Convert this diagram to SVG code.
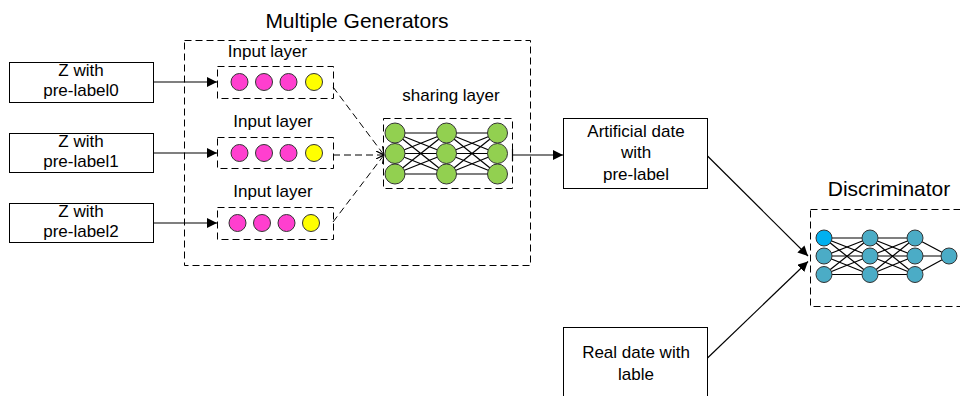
<svg xmlns="http://www.w3.org/2000/svg" width="960" height="396" viewBox="0 0 960 396">
<style>
text{font-family:"Liberation Sans",Arial,sans-serif;fill:#000;text-anchor:middle}
.t{font-size:21px}
.m{font-size:17px}
.s{font-size:17px}
.box{fill:#fff;stroke:#000;stroke-width:1}
.dash{fill:none;stroke:#000;stroke-width:1;stroke-dasharray:7,4}
.ln{fill:none;stroke:#000;stroke-width:1.2}
.net{stroke:#000;stroke-width:1.2}
.pk{fill:#ff3fcf;stroke:#333;stroke-width:1}
.ye{fill:#ffff00;stroke:#333;stroke-width:1}
.gr{fill:#92d050;stroke:#333;stroke-width:1}
.tl{fill:#4bacc6;stroke:#333;stroke-width:1}
.bl{fill:#00b0f0;stroke:#333;stroke-width:1}
</style>
<defs>
<marker id="ah" viewBox="0 0 10 10" refX="10" refY="5" markerWidth="10" markerHeight="10" markerUnits="userSpaceOnUse" orient="auto">
<path d="M0,0 L10,5 L0,10 z" fill="#000"/>
</marker>
<marker id="oa" viewBox="0 0 10 10" refX="10" refY="5" markerWidth="8" markerHeight="8" markerUnits="userSpaceOnUse" orient="auto">
<path d="M0,0 L10,5 L0,10" fill="none" stroke="#000" stroke-width="1.2"/>
</marker>
</defs>

<g id="generators">
<rect class="dash" x="184.5" y="40.5" width="346" height="225"/>
<text class="t" x="357" y="28">Multiple Generators</text>
</g>

<g id="z0">
<rect class="box" x="9.5" y="62.5" width="144" height="40"/>
<text class="m" x="81" y="76">Z with</text>
<text class="m" x="81" y="96">pre-label0</text>
</g>
<g id="z1">
<rect class="box" x="9.5" y="133.5" width="144" height="39"/>
<text class="m" x="81" y="147">Z with</text>
<text class="m" x="81" y="167">pre-label1</text>
</g>
<g id="z2">
<rect class="box" x="9.5" y="203.5" width="144" height="39"/>
<text class="m" x="81" y="217">Z with</text>
<text class="m" x="81" y="237">pre-label2</text>
</g>

<g id="input0">
<text class="s" x="267.5" y="57">Input layer</text>
<rect class="dash" x="217.5" y="66.5" width="116" height="32"/>
<circle class="pk" cx="239.5" cy="82" r="8.5"/>
<circle class="pk" cx="264" cy="82" r="8.5"/>
<circle class="pk" cx="288.5" cy="82" r="8.5"/>
<circle class="ye" cx="314" cy="82" r="8.5"/>
</g>
<g id="input1">
<text class="s" x="273" y="127">Input layer</text>
<rect class="dash" x="217.5" y="137.5" width="116" height="31"/>
<circle class="pk" cx="239.5" cy="153" r="8.5"/>
<circle class="pk" cx="264" cy="153" r="8.5"/>
<circle class="pk" cx="288.5" cy="153" r="8.5"/>
<circle class="ye" cx="314" cy="153" r="8.5"/>
</g>
<g id="input2">
<text class="s" x="273" y="197">Input layer</text>
<rect class="dash" x="217.5" y="207.5" width="116" height="32"/>
<circle class="pk" cx="237.5" cy="223" r="8.5"/>
<circle class="pk" cx="262" cy="223" r="8.5"/>
<circle class="pk" cx="286.5" cy="223" r="8.5"/>
<circle class="ye" cx="311" cy="223" r="8.5"/>
</g>

<g id="sharing">
<text class="s" x="451" y="101">sharing layer</text>
<rect class="dash" x="383.5" y="118.5" width="129" height="70"/>
<g class="net">
<line x1="395" y1="133" x2="446.5" y2="133"/><line x1="395" y1="133" x2="446.5" y2="153.5"/><line x1="395" y1="133" x2="446.5" y2="174"/>
<line x1="395" y1="153.5" x2="446.5" y2="133"/><line x1="395" y1="153.5" x2="446.5" y2="153.5"/><line x1="395" y1="153.5" x2="446.5" y2="174"/>
<line x1="395" y1="174" x2="446.5" y2="133"/><line x1="395" y1="174" x2="446.5" y2="153.5"/><line x1="395" y1="174" x2="446.5" y2="174"/>
<line x1="446.5" y1="133" x2="497.5" y2="133"/><line x1="446.5" y1="133" x2="497.5" y2="153.5"/><line x1="446.5" y1="133" x2="497.5" y2="174"/>
<line x1="446.5" y1="153.5" x2="497.5" y2="133"/><line x1="446.5" y1="153.5" x2="497.5" y2="153.5"/><line x1="446.5" y1="153.5" x2="497.5" y2="174"/>
<line x1="446.5" y1="174" x2="497.5" y2="133"/><line x1="446.5" y1="174" x2="497.5" y2="153.5"/><line x1="446.5" y1="174" x2="497.5" y2="174"/>
</g>
<circle class="gr" cx="395" cy="133" r="10"/><circle class="gr" cx="395" cy="153.5" r="10"/><circle class="gr" cx="395" cy="174" r="10"/>
<circle class="gr" cx="446.5" cy="133" r="10"/><circle class="gr" cx="446.5" cy="153.5" r="10"/><circle class="gr" cx="446.5" cy="174" r="10"/>
<circle class="gr" cx="497.5" cy="133" r="10"/><circle class="gr" cx="497.5" cy="153.5" r="10"/><circle class="gr" cx="497.5" cy="174" r="10"/>
</g>

<g id="artificial">
<rect class="box" x="563.5" y="118.5" width="144" height="70"/>
<text class="m" x="636" y="137">Artificial date</text>
<text class="m" x="636" y="158">with</text>
<text class="m" x="636" y="180">pre-label</text>
</g>

<g id="real">
<rect class="box" x="563.5" y="327.5" width="144" height="80"/>
<text class="m" x="636" y="358">Real date with</text>
<text class="m" x="636" y="380">lable</text>
</g>

<g id="discriminator">
<text class="t" x="889" y="196">Discriminator</text>
<rect class="dash" x="810.5" y="209.5" width="160" height="97"/>
<g class="net">
<line x1="824" y1="238" x2="870" y2="238"/><line x1="824" y1="238" x2="870" y2="256"/><line x1="824" y1="238" x2="870" y2="274.5"/>
<line x1="824" y1="256" x2="870" y2="238"/><line x1="824" y1="256" x2="870" y2="256"/><line x1="824" y1="256" x2="870" y2="274.5"/>
<line x1="824" y1="274.5" x2="870" y2="238"/><line x1="824" y1="274.5" x2="870" y2="256"/><line x1="824" y1="274.5" x2="870" y2="274.5"/>
<line x1="870" y1="238" x2="915" y2="238"/><line x1="870" y1="238" x2="915" y2="256"/><line x1="870" y1="238" x2="915" y2="274.5"/>
<line x1="870" y1="256" x2="915" y2="238"/><line x1="870" y1="256" x2="915" y2="256"/><line x1="870" y1="256" x2="915" y2="274.5"/>
<line x1="870" y1="274.5" x2="915" y2="238"/><line x1="870" y1="274.5" x2="915" y2="256"/><line x1="870" y1="274.5" x2="915" y2="274.5"/>
<line x1="915" y1="238" x2="949" y2="256"/><line x1="915" y1="256" x2="949" y2="256"/><line x1="915" y1="274.5" x2="949" y2="256"/>
</g>
<circle class="bl" cx="824" cy="238" r="8"/><circle class="tl" cx="824" cy="256" r="8"/><circle class="tl" cx="824" cy="274.5" r="8"/>
<circle class="tl" cx="870" cy="238" r="8"/><circle class="tl" cx="870" cy="256" r="8"/><circle class="tl" cx="870" cy="274.5" r="8"/>
<circle class="tl" cx="915" cy="238" r="8"/><circle class="tl" cx="915" cy="256" r="8"/><circle class="tl" cx="915" cy="274.5" r="8"/>
<circle class="tl" cx="949" cy="256" r="8"/>
</g>

<g id="connectors">
<line class="ln" x1="153" y1="82" x2="217" y2="82" marker-end="url(#ah)"/>
<line class="ln" x1="153" y1="153" x2="217" y2="153" marker-end="url(#ah)"/>
<line class="ln" x1="153" y1="223" x2="217" y2="223" marker-end="url(#ah)"/>
<line class="dash" x1="333" y1="87" x2="384" y2="155" marker-end="url(#oa)"/>
<line class="dash" x1="333" y1="155" x2="384" y2="155" marker-end="url(#oa)"/>
<line class="dash" x1="333" y1="222" x2="384" y2="155" marker-end="url(#oa)"/>
<line class="ln" x1="512.5" y1="149" x2="512.5" y2="161"/>
<line class="ln" x1="512.5" y1="155" x2="563" y2="155" marker-end="url(#ah)"/>
<line class="ln" x1="707.5" y1="156" x2="808" y2="256" marker-end="url(#ah)"/>
<line class="ln" x1="707.5" y1="358" x2="808" y2="261.5" marker-end="url(#ah)"/>
</g>
</svg>
